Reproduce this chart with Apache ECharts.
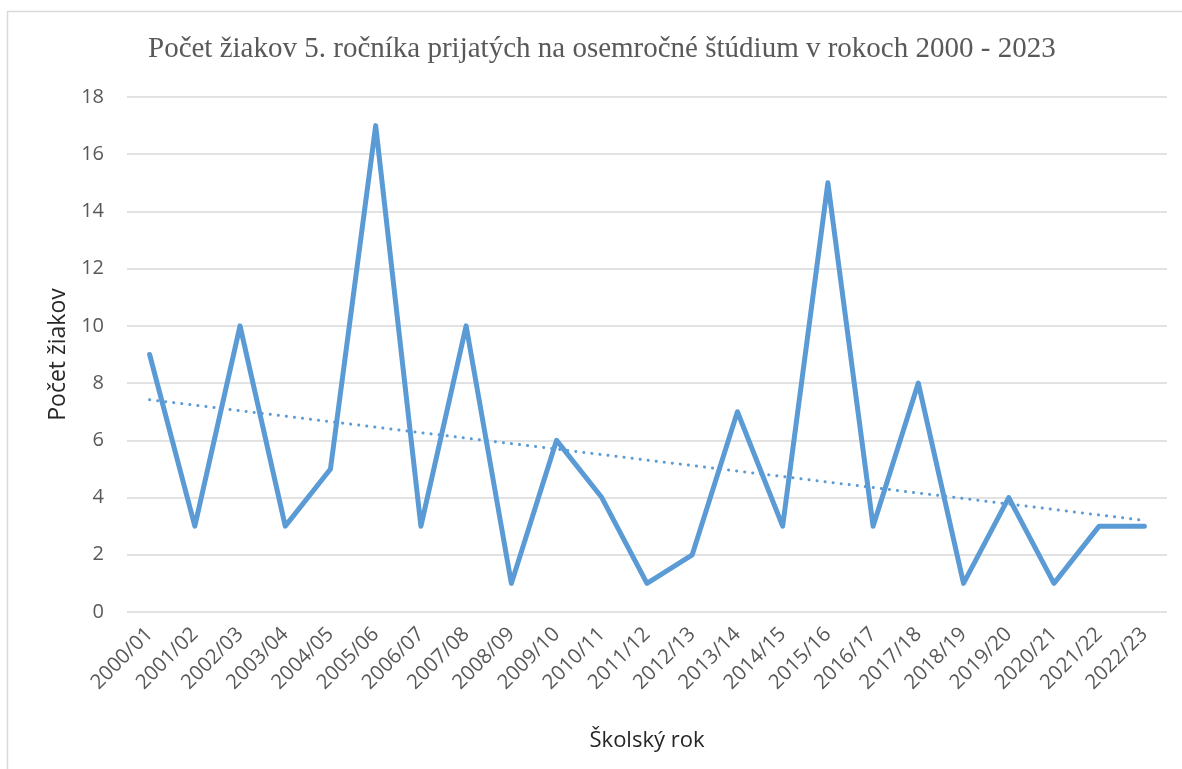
<!DOCTYPE html>
<html>
<head>
<meta charset="utf-8">
<script src="https://cdn.jsdelivr.net/npm/echarts@6/dist/echarts.min.js"></script>
<style>
html,body{margin:0;padding:0;background:#fff;}
#chart{width:1182px;height:769px;}
</style>
</head>
<body>
<div id="chart"></div>
<script>
const categories = ['2000/01','2001/02','2002/03','2003/04','2004/05','2005/06','2006/07','2007/08','2008/09','2009/10','2010/11','2011/12','2012/13','2013/14','2014/15','2015/16','2016/17','2017/18','2018/19','2019/20','2020/21','2021/22','2022/23'];
const pupils = [9,3,10,3,5,17,3,10,1,6,4,1,2,7,3,15,3,8,1,4,1,3,3];
// linear trend line endpoints
const trendStart = 7.42;
const trendEnd = 3.2;
const yTicks = [0,2,4,6,8,10,12,14,16,18];

const trend = categories.map((c,i)=> i===0 ? trendStart : (i===categories.length-1 ? trendEnd : null));

const chart = echarts.init(document.getElementById('chart'), null, {renderer:'canvas'});
const sans = "'Open Sans', 'Liberation Sans', sans-serif";
chart.setOption({
  animation:false,
  backgroundColor:'#fff',
  graphic:[{type:'rect', shape:{x:7.5,y:11.5,width:1200,height:800}, style:{fill:'none', stroke:'#D9D9D9', lineWidth:1.5}, silent:true, z:-1}],
  title:{
    text:'Počet žiakov 5. ročníka prijatých na osemročné štúdium v rokoch 2000 - 2023',
    left:143, top:30,
    textStyle:{fontFamily:"'Liberation Serif', 'DejaVu Serif', serif", fontSize:29, fontWeight:'normal', color:'#595959'}
  },
  grid:{left:127, right:15, top:97, bottom:157, containLabel:false},
  xAxis:{
    type:'category', data:categories, boundaryGap:true,
    name:'Školský rok', nameLocation:'middle', nameGap:118,
    nameTextStyle:{fontFamily:sans, fontSize:22, color:'#262626'},
    axisLine:{show:false}, axisTick:{show:false},
    axisLabel:{rotate:45, interval:0, fontFamily:sans, fontSize:20.5, color:'#595959', margin:19}
  },
  yAxis:{
    type:'value', min:0, max:18, interval:2,
    name:'Počet žiakov', nameLocation:'middle', nameGap:56,
    nameTextStyle:{fontFamily:sans, fontSize:23, color:'#262626'},
    axisLine:{show:false}, axisTick:{show:false},
    axisLabel:{fontFamily:sans, fontSize:20, color:'#595959', margin:23,
      formatter:(v)=> yTicks.includes(v) ? String(v) : ''},
    splitLine:{lineStyle:{color:'#D9D9D9', width:1.5}}
  },
  series:[
    {type:'line', data:pupils, symbol:'none', lineStyle:{color:'#5B9BD5', width:5, cap:'round', join:'round'}, z:3},
    {type:'line', data:trend, connectNulls:true, symbol:'none', lineStyle:{color:'#5B9BD5', width:3, type:[0.1,8], cap:'round'}, z:2}
  ]
});
</script>
</body>
</html>
